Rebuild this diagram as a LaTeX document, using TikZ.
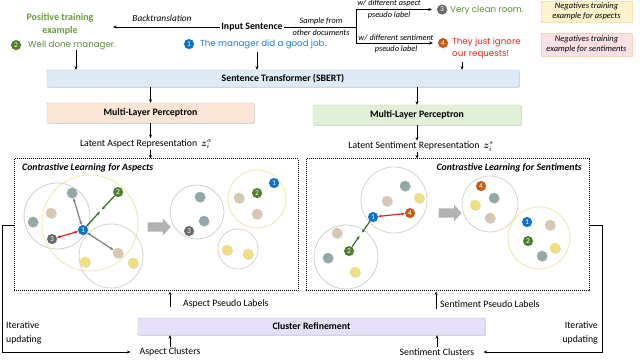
\documentclass[tikz,border=0pt]{standalone}
\usepackage{fontspec}
\setmainfont{Carlito}
\newfontfamily\hand{Poppins}
\usepackage{bm}
\usetikzlibrary{arrows.meta,shapes.arrows,shadows,calc}
\definecolor{stfill}{HTML}{DEEBF7}
\definecolor{stdraw}{HTML}{B7C9DD}
\definecolor{mlpafill}{HTML}{FBE5D6}
\definecolor{mlpadraw}{HTML}{E8CBB8}
\definecolor{mlpsfill}{HTML}{E2F0D9}
\definecolor{mlpsdraw}{HTML}{C5DDB6}
\definecolor{crfill}{HTML}{E6E1F8}
\definecolor{crdraw}{HTML}{BDB3E3}
\definecolor{negyfill}{HTML}{FFF2CC}
\definecolor{negydraw}{HTML}{F3E4B0}
\definecolor{negpfill}{HTML}{FCE1E4}
\definecolor{negpdraw}{HTML}{F2D8B8}
\definecolor{mblue}{HTML}{0A72C8}
\definecolor{mgreen}{HTML}{4F7F2E}
\definecolor{mgrey}{HTML}{6A6A6A}
\definecolor{morange}{HTML}{C55A11}
\definecolor{dteal}{HTML}{93A9A7}
\definecolor{dbeige}{HTML}{D8C7B2}
\definecolor{dyellow}{HTML}{EDDF82}
\definecolor{cgrey}{HTML}{CFCFCF}
\definecolor{cyellow}{HTML}{EEE6A6}
\definecolor{cbeige}{HTML}{DCD2C6}
\definecolor{agrey}{HTML}{7F7F7F}
\definecolor{ared}{HTML}{E0201B}
\definecolor{agreen}{HTML}{3E6B28}
\definecolor{tgreen}{HTML}{5A8C3A}
\definecolor{tposgreen}{HTML}{6B9A3C}
\definecolor{tblue}{HTML}{1F7BD0}
\definecolor{tred}{HTML}{E8201F}
\newcommand\fz[2]{\fontsize{#1pt}{#2pt}\selectfont}
\begin{document}
\begin{tikzpicture}[x=1pt,y=-1pt,
  arr/.style={-{Stealth[length=3.5pt,width=3pt]}, line width=0.6pt},
  box/.style={draw, rounded corners=1pt, inner sep=0pt, font=\fz{9.8}{11}\bfseries,
     drop shadow={shadow xshift=0.8pt, shadow yshift=-0.8pt, opacity=0.3}},
  cbox/.style={draw, densely dotted, line width=1pt, inner sep=0pt},
  negbox/.style={draw, line width=0.4pt, inner sep=0pt, align=center, font=\fz{8.5}{10}\itshape},
  dot/.style={circle, minimum size=10.5pt, inner sep=0pt,
     drop shadow={shadow xshift=0.7pt, shadow yshift=-0.7pt, opacity=0.3}},
  mk/.style={circle, minimum size=10pt, inner sep=0pt, text=white, font=\fz{7.5}{7.5},
     drop shadow={shadow xshift=0.6pt, shadow yshift=-0.6pt, opacity=0.3}},
  clus/.style={line width=0.8pt},
  sent/.style={font=\hand\fz{8.7}{12}, inner sep=1pt, anchor=west, align=left},
  small/.style={font=\fz{8.3}{9}\itshape, inner sep=0.5pt},
  lbl/.style={font=\fz{9.8}{13.5}, inner sep=1pt},
  garr/.style={{Stealth[length=3.5pt,width=3pt]}-{Stealth[length=3.5pt,width=3pt]}, line width=1.2pt, agrey},
  rarr/.style={{Stealth[length=3.5pt,width=3pt]}-{Stealth[length=3.5pt,width=3pt]}, line width=1.2pt, ared},
  gnarr/.style={-{Stealth[length=3.5pt,width=3pt]}, line width=1.2pt, agreen},
  barr/.style={single arrow, fill=black!30, minimum height=23pt, inner xsep=0pt, inner ysep=4.5pt,
     single arrow head extend=3.5pt, single arrow tip angle=95}
]
\useasboundingbox (0,0) rectangle (640,363);

% ---------- top area ----------
\node[font=\fz{10}{13}\bfseries, text=tposgreen, align=center, inner sep=0pt] (pos) at (60,24) {Positive training\\example};
\node[font=\fz{9.3}{10}\itshape, inner sep=0pt] (bt) at (162,18) {Backtranslation};
\node[font=\fz{9.8}{11}\bfseries, inner sep=1.5pt] (inp) at (252,27) {Input Sentence};
\coordinate (btend) at (113,27);
\draw[arr] (inp.west) -- (btend);

\coordinate (br) at (356,27);
\coordinate (brt) at (356,9.5);
\coordinate (brb) at (356,43);
\draw[line width=0.6pt] (inp.east) -- (br);
\draw[line width=0.6pt] (brt) -- (brb);
\node[small] (samp) at (321,21) {Sample from};
\node[small] (othd) at (321,33) {other documents};

\node[mk, fill=mgrey] (t3) at (442,9.5) {3};
\node[mk, fill=morange] (t4) at (443,43) {4};
\draw[arr] (brt) -- ([xshift=-5pt]t3.west);
\draw[arr] (brb) -- ([xshift=-5pt]t4.west);
\node[small] (wa) at (389,3.5) {w/ different aspect};
\node[small] (pa) at (389,15.5) {pseudo label};
\node[small] (ws) at (396,37.5) {w/ different sentiment};
\node[small] (ps) at (396,49.5) {pseudo label};

\node[sent, text=tgreen] (s3) at (449,10) {Very clean room.};
\node[sent, text=tred] (s4) at (451,48.5) {They just ignore\\our requests!};

\node[mk, fill=mgreen] (t2) at (16,45) {2};
\node[sent, text=tgreen] (s2) at (27,45) {Well done manager.};
\node[mk, fill=mblue] (t1) at (189,44) {1};
\node[sent, text=tblue] (s1) at (199,44) {The manager did a good job.};

\node[negbox, draw=negydraw, fill=negyfill, minimum width=91pt, minimum height=21pt] (na) at (586.5,11.5) {Negatives training\\example for aspects};
\node[negbox, draw=negpdraw, fill=negpfill, minimum width=91pt, minimum height=23pt] (ns) at (586.5,44.5) {Negatives training\\example for sentiments};

% ---------- encoder ----------
\node[box, draw=stdraw, fill=stfill, minimum width=472pt, minimum height=17pt] (st) at (283,78.5) {Sentence Transformer (SBERT)};
\coordinate (s2a) at ([xshift=60pt]t2.south);
\coordinate (s1a) at ([xshift=68pt,yshift=-3pt]t1.south);
\coordinate (s4a) at ($(s4.south west)+(11,2)$);
\draw[arr] (s2a) -- (s2a |- st.north);
\draw[arr] (s1a) -- (s1a |- st.north);
\draw[arr] (s4a) -- (s4a |- st.north);

\node[box, draw=mlpadraw, fill=mlpafill, minimum width=207pt, minimum height=20pt] (mlpa) at (150.5,113) {Multi-Layer Perceptron};
\node[box, draw=mlpsdraw, fill=mlpsfill, minimum width=208pt, minimum height=20pt] (mlps) at (417,115) {Multi-Layer Perceptron};
\draw[arr] (st.south -| mlpa.north) -- (mlpa.north);
\draw[arr] (st.south -| mlps.north) -- (mlps.north);

\node[lbl] (lata) at (146,144) {Latent Aspect Representation\, $\bm{z}_i^a$};
\node[lbl] (lats) at (421,146.5) {Latent Sentiment Representation\, $\bm{z}_i^s$};
\draw[arr] (mlpa.south) -- (mlpa.south |- lata.north);
\draw[arr] (mlps.south) -- (mlps.south |- lats.north);

% ---------- contrastive boxes ----------
\node[cbox, minimum width=284pt, minimum height=132pt] (abox) at (156,225) {};
\node[cbox, minimum width=283pt, minimum height=132pt] (sbox) at (447.5,225) {};
\draw[arr] (lata.south -| mlpa.south) -- (abox.north -| mlpa.south);
\draw[arr] (lats.south -| mlps.south) -- (sbox.north -| mlps.south);
\node[font=\fz{9.8}{11}\bfseries\itshape, anchor=west, inner sep=0pt] (at) at (22,168) {Contrastive Learning for Aspects};
\node[font=\fz{9.8}{11}\bfseries\itshape, anchor=east, inner sep=0pt] (stt) at (582,168) {Contrastive Learning for Sentiments};

% aspects: left clusters
\draw[clus, cgrey] (57,216) circle[radius=33pt];
\draw[clus, cyellow] (90,223) circle[radius=48pt];
\draw[clus, cbeige] (111,256) circle[radius=32pt];
\node[dot, fill=dteal] (a1) at (72,193) {};
\node[dot, fill=dteal] (a2) at (33,222) {};
\node[dot, fill=dbeige] (a3) at (51,213) {};
\node[dot, fill=dbeige] (a4) at (118,253) {};
\node[dot, fill=dyellow] (a5) at (85,262) {};
\node[dot, fill=dyellow] (a6) at (133,263) {};
\node[mk, fill=mgreen] (am2) at (118,192) {2};
\node[mk, fill=mblue] (am1) at (83,230) {1};
\node[mk, fill=mgrey] (am3) at (52,239) {3};
\draw[garr] (am1) -- (a1);
\draw[garr] (am1) -- (a4);
\draw[rarr] (am1) -- (am3);
\draw[gnarr] (am1) -- ($(am1)!0.48!(am2)$);
\draw[gnarr] (am2) -- ($(am2)!0.46!(am1)$);
\node[barr] (ab) at (157,227) {};

% aspects: right clusters
\draw[clus, cgrey] (197,212) circle[radius=27pt];
\draw[clus, cyellow] (257,199) circle[radius=29pt];
\draw[clus, cbeige] (238,249) circle[radius=20pt];
\node[dot, fill=dteal] (b1) at (200,197) {};
\node[dot, fill=dteal] (b2) at (204,221) {};
\node[mk, fill=mgrey] (bm3) at (189,231) {3};
\node[mk, fill=mblue] (bm1) at (274,183) {1};
\node[mk, fill=mgreen] (bm2) at (257,193) {2};
\node[dot, fill=dbeige] (b3) at (239,198) {};
\node[dot, fill=dbeige] (b4) at (257,214) {};
\node[dot, fill=dyellow] (b5) at (227,250) {};
\node[dot, fill=dyellow] (b6) at (248,254) {};

% sentiments: left clusters
\draw[clus, cbeige] (394,200) circle[radius=33pt];
\draw[clus, cgrey] (346,257) circle[radius=32pt];
\node[dot, fill=dteal] (c1) at (405,186) {};
\node[dot, fill=dbeige] (c2) at (387,201) {};
\node[dot, fill=dyellow] (c3) at (419,198) {};
\node[mk, fill=morange] (cm4) at (410,213) {4};
\node[mk, fill=mblue] (cm1) at (373,217) {1};
\node[dot, fill=dbeige] (c4) at (337,233) {};
\node[dot, fill=dteal] (c5) at (328,258) {};
\node[mk, fill=mgreen] (cm2) at (349,251) {2};
\node[dot, fill=dyellow] (c6) at (355,272) {};
\draw[rarr] (cm1) -- (cm4);
\draw[gnarr] (cm1) -- ($(cm1)!0.46!(cm2)$);
\draw[gnarr] (cm2) -- ($(cm2)!0.44!(cm1)$);
\node[barr] (sb) at (448,213) {};

% sentiments: right clusters
\draw[clus, cbeige] (490,204) circle[radius=28pt];
\draw[clus, cyellow] (539,238) circle[radius=31pt];
\node[mk, fill=morange] (dm4) at (481,186) {4};
\node[dot, fill=dteal] (d1) at (494,198) {};
\node[dot, fill=dyellow] (d2) at (475,205) {};
\node[dot, fill=dbeige] (d3) at (490,218) {};
\node[mk, fill=mblue] (dm1) at (527,222) {1};
\node[dot, fill=dbeige] (d4) at (550,225) {};
\node[mk, fill=mgreen] (dm2) at (528,241) {2};
\node[dot, fill=dyellow] (d5) at (555,248) {};
\node[dot, fill=dteal] (d6) at (542,256) {};

% ---------- cluster refinement ----------
\node[box, draw=crdraw, fill=crfill, minimum width=347pt, minimum height=17pt] (cr) at (311.5,326.5) {Cluster Refinement};
\node[lbl, anchor=west] (apl) at (182,304) {Aspect Pseudo Labels};
\node[lbl, anchor=west] (spl) at (439,304) {Sentiment Pseudo Labels};
\coordinate (aplfoot) at (170,307);
\coordinate (splfoot) at (436,309);
\draw[arr] (aplfoot) -- (aplfoot |- abox.south);
\draw[arr] (splfoot) -- (splfoot |- sbox.south);

\node[lbl] (ac) at (170,352) {Aspect Clusters};
\node[lbl] (sc) at (437,352) {Sentiment Clusters};
\draw[arr] (ac.north) -- (ac.north |- cr.south);
\draw[arr] (sc.north) -- (sc.north |- cr.south);

\node[lbl, anchor=west, align=left] (itl) at (5,333) {Iterative\\updating};
\node[lbl, anchor=east, align=right] (itr) at (599,333) {Iterative\\updating};
\draw[arr, line width=0.8pt] (abox.west) -- ++(-11,0) |- ([xshift=-8pt]ac.west);
\draw[arr, line width=0.8pt] (sbox.east) -- ++(13,0) |- ([xshift=8pt]sc.east);
\end{tikzpicture}
\end{document}
